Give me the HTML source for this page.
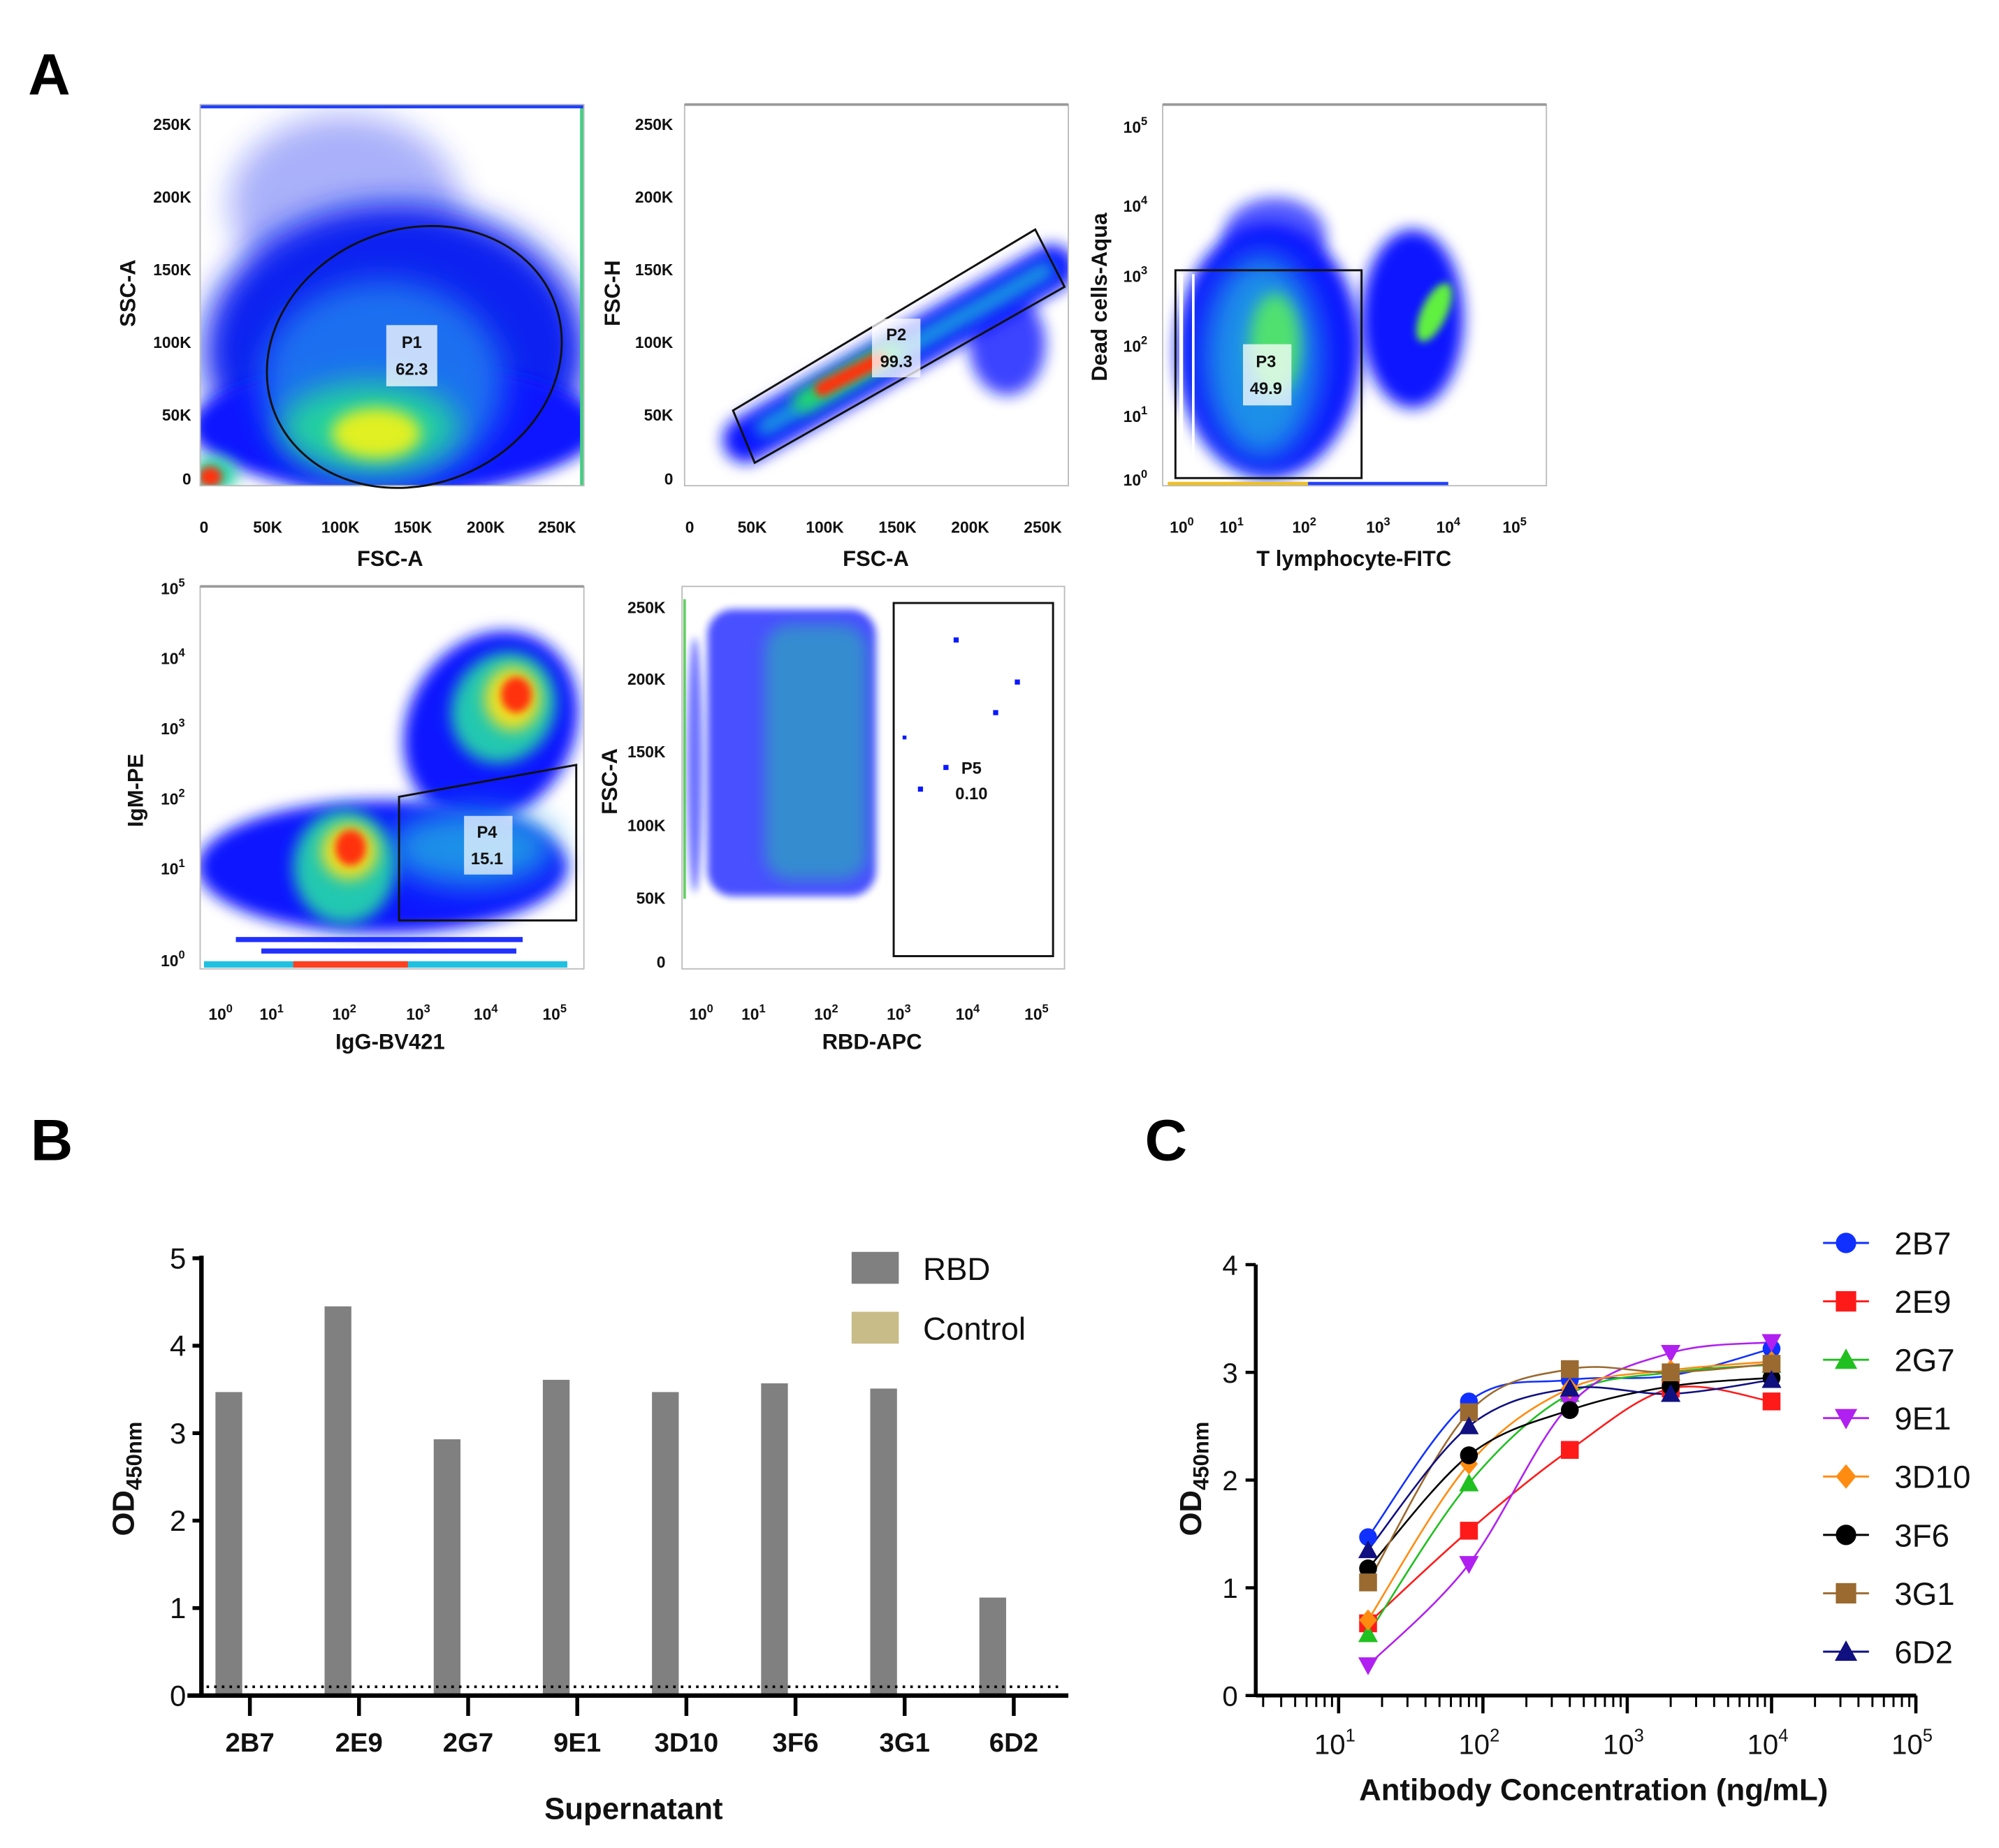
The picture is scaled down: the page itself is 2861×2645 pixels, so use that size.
<!DOCTYPE html>
<html><head><meta charset="utf-8">
<style>
html,body{margin:0;padding:0;background:#fff;}
svg{display:block;}
text{font-family:"Liberation Sans",Arial,sans-serif;}
.tk{font-size:12.5px;font-weight:bold;fill:#111;}
.at{font-size:17px;font-weight:bold;fill:#111;}
.pl{font-size:13px;font-weight:bold;fill:#111;}
</style></head>
<body>
<svg id="fig" width="2861" height="2645" viewBox="0 0 1568 1449.6" xmlns="http://www.w3.org/2000/svg">
<defs>
<filter id="b6" x="-50%" y="-50%" width="200%" height="200%"><feGaussianBlur stdDeviation="6"/></filter>
<filter id="b12" x="-50%" y="-50%" width="200%" height="200%"><feGaussianBlur stdDeviation="12"/></filter>
<filter id="b3" x="-50%" y="-50%" width="200%" height="200%"><feGaussianBlur stdDeviation="3"/></filter>
<clipPath id="c1"><rect x="157" y="82" width="301" height="299"/></clipPath>
<clipPath id="c2"><rect x="537" y="82" width="301" height="299"/></clipPath>
<clipPath id="c3"><rect x="912" y="82" width="301" height="299"/></clipPath>
<clipPath id="c4"><rect x="157" y="460" width="301" height="300"/></clipPath>
<clipPath id="c5"><rect x="535" y="460" width="300" height="300"/></clipPath>
</defs>

<text x="22" y="74" style="font-size:46px;font-weight:bold">A</text>
<text x="24" y="910" style="font-size:46px;font-weight:bold">B</text>
<text x="898" y="910" style="font-size:46px;font-weight:bold">C</text>

<!-- Plot 1 -->
<g>
<g clip-path="url(#c1)">
<ellipse cx="270" cy="160" rx="90" ry="70" fill="#1020f0" opacity="0.35" filter="url(#b12)"/>
<ellipse cx="310" cy="275" rx="150" ry="115" fill="#1020f0" filter="url(#b12)"/>
<ellipse cx="310" cy="335" rx="160" ry="50" fill="#0a18ff" filter="url(#b6)"/>
<ellipse cx="300" cy="300" rx="95" ry="80" fill="#1a70f0" filter="url(#b12)"/>
<ellipse cx="290" cy="335" rx="70" ry="35" fill="#20d0a0" filter="url(#b12)"/>
<ellipse cx="295" cy="340" rx="35" ry="20" fill="#e0f020" filter="url(#b6)"/>
<ellipse cx="168" cy="372" rx="18" ry="14" fill="#20d0a0" filter="url(#b6)"/>
<ellipse cx="165" cy="374" rx="9" ry="8" fill="#ff3010" filter="url(#b3)"/>
<rect x="455" y="82" width="3" height="299" fill="#40d080"/>
<rect x="157" y="82" width="301" height="3" fill="#2040ff"/>
</g>
<rect x="157" y="82" width="301" height="299" fill="none" stroke="#bbb" stroke-width="1"/>
<ellipse cx="325" cy="280" rx="118" ry="100" transform="rotate(-22 325 280)" fill="none" stroke="#111" stroke-width="1.6"/>
<rect x="303" y="255" width="40" height="48" fill="#fff" opacity="0.75"/>
<text class="pl" x="323" y="273" text-anchor="middle">P1</text>
<text class="pl" x="323" y="294" text-anchor="middle">62.3</text>
<g class="tk" text-anchor="end">
<text x="150" y="102">250K</text><text x="150" y="159">200K</text><text x="150" y="216">150K</text><text x="150" y="273">100K</text><text x="150" y="330">50K</text><text x="150" y="380">0</text>
</g>
<g class="tk" text-anchor="middle">
<text x="160" y="418">0</text><text x="210" y="418">50K</text><text x="267" y="418">100K</text><text x="324" y="418">150K</text><text x="381" y="418">200K</text><text x="437" y="418">250K</text>
</g>
<text class="at" x="306" y="444" text-anchor="middle">FSC-A</text>
<text class="at" x="106" y="230" text-anchor="middle" transform="rotate(-90 106 230)">SSC-A</text>
</g>

<!-- Plot 2 -->
<g>
<g clip-path="url(#c2)">
<line x1="585" y1="345" x2="825" y2="210" stroke="#0a18ff" stroke-width="36" stroke-linecap="round" filter="url(#b6)"/>
<ellipse cx="790" cy="270" rx="30" ry="40" fill="#0a18ff" opacity="0.8" filter="url(#b6)"/>
<line x1="600" y1="335" x2="820" y2="212" stroke="#1aa0e0" stroke-width="14" stroke-linecap="round" filter="url(#b6)"/>
<line x1="630" y1="315" x2="700" y2="275" stroke="#20e060" stroke-width="16" stroke-linecap="round" filter="url(#b6)"/>
<line x1="645" y1="305" x2="690" y2="282" stroke="#ff3010" stroke-width="12" stroke-linecap="round" filter="url(#b3)"/>
</g>
<rect x="537" y="82" width="301" height="299" fill="none" stroke="#bbb"/>
<line x1="537" y1="82" x2="838" y2="82" stroke="#999" stroke-width="2"/>
<polygon points="575,322 812,180 835,225 592,363" fill="none" stroke="#111" stroke-width="1.6"/>
<rect x="684" y="250" width="38" height="46" fill="#fff" opacity="0.75"/>
<text class="pl" x="703" y="267" text-anchor="middle">P2</text>
<text class="pl" x="703" y="288" text-anchor="middle">99.3</text>
<g class="tk" text-anchor="end">
<text x="528" y="102">250K</text><text x="528" y="159">200K</text><text x="528" y="216">150K</text><text x="528" y="273">100K</text><text x="528" y="330">50K</text><text x="528" y="380">0</text>
</g>
<g class="tk" text-anchor="middle">
<text x="541" y="418">0</text><text x="590" y="418">50K</text><text x="647" y="418">100K</text><text x="704" y="418">150K</text><text x="761" y="418">200K</text><text x="818" y="418">250K</text>
</g>
<text class="at" x="687" y="444" text-anchor="middle">FSC-A</text>
<text class="at" x="486" y="230" text-anchor="middle" transform="rotate(-90 486 230)">FSC-H</text>
</g>

<!-- Plot 3 -->
<g>
<g clip-path="url(#c3)">
<ellipse cx="995" cy="275" rx="72" ry="100" fill="#0a18ff" filter="url(#b6)"/>
<ellipse cx="1000" cy="185" rx="40" ry="30" fill="#0a18ff" opacity="0.7" filter="url(#b6)"/>
<ellipse cx="1108" cy="250" rx="40" ry="70" fill="#0a18ff" filter="url(#b6)"/>
<ellipse cx="990" cy="280" rx="45" ry="80" fill="#1a90e8" filter="url(#b12)"/>
<ellipse cx="1000" cy="270" rx="20" ry="40" fill="#50e070" filter="url(#b6)"/>
<ellipse cx="1125" cy="245" rx="10" ry="25" transform="rotate(25 1125 245)" fill="#60f040" filter="url(#b3)"/>
<rect x="916" y="378" width="110" height="3" fill="#f0c020"/>
<rect x="1026" y="378" width="110" height="3" fill="#2040ff"/>
<rect x="925" y="215" width="3" height="160" fill="#fff"/>
<rect x="935" y="215" width="2" height="160" fill="#fff"/>
</g>
<rect x="912" y="82" width="301" height="299" fill="none" stroke="#bbb"/>
<line x1="912" y1="82" x2="1213" y2="82" stroke="#999" stroke-width="2"/>
<rect x="922" y="212" width="146" height="163" fill="none" stroke="#111" stroke-width="1.6"/>
<rect x="975" y="270" width="38" height="48" fill="#fff" opacity="0.75"/>
<text class="pl" x="993" y="288" text-anchor="middle">P3</text>
<text class="pl" x="993" y="309" text-anchor="middle">49.9</text>
<g class="tk" text-anchor="end">
<text x="900" y="104">10<tspan dy="-6" font-size="9">5</tspan></text>
<text x="900" y="166">10<tspan dy="-6" font-size="9">4</tspan></text>
<text x="900" y="221">10<tspan dy="-6" font-size="9">3</tspan></text>
<text x="900" y="276">10<tspan dy="-6" font-size="9">2</tspan></text>
<text x="900" y="331">10<tspan dy="-6" font-size="9">1</tspan></text>
<text x="900" y="381">10<tspan dy="-6" font-size="9">0</tspan></text>
</g>
<g class="tk" text-anchor="middle">
<text x="927" y="418">10<tspan dy="-6" font-size="9">0</tspan></text>
<text x="966" y="418">10<tspan dy="-6" font-size="9">1</tspan></text>
<text x="1023" y="418">10<tspan dy="-6" font-size="9">2</tspan></text>
<text x="1081" y="418">10<tspan dy="-6" font-size="9">3</tspan></text>
<text x="1136" y="418">10<tspan dy="-6" font-size="9">4</tspan></text>
<text x="1188" y="418">10<tspan dy="-6" font-size="9">5</tspan></text>
</g>
<text class="at" x="1062" y="444" text-anchor="middle">T lymphocyte-FITC</text>
<text class="at" x="868" y="233" text-anchor="middle" transform="rotate(-90 868 233)">Dead cells-Aqua</text>
</g>

<!-- Plot 4 -->
<g>
<g clip-path="url(#c4)">
<ellipse cx="385" cy="570" rx="65" ry="78" transform="rotate(30 385 570)" fill="#0a18ff" filter="url(#b6)"/>
<ellipse cx="300" cy="680" rx="145" ry="52" fill="#0a18ff" filter="url(#b6)"/>
<ellipse cx="395" cy="555" rx="40" ry="45" transform="rotate(30 395 555)" fill="#20c8b0" filter="url(#b6)"/>
<ellipse cx="402" cy="548" rx="22" ry="25" fill="#f0e020" filter="url(#b6)"/>
<ellipse cx="405" cy="545" rx="12" ry="14" fill="#ff3010" filter="url(#b3)"/>
<ellipse cx="370" cy="665" rx="65" ry="30" fill="#1a90e8" filter="url(#b12)"/>
<ellipse cx="270" cy="680" rx="40" ry="45" fill="#20c8b0" filter="url(#b6)"/>
<ellipse cx="274" cy="668" rx="22" ry="22" fill="#f0e020" filter="url(#b6)"/>
<ellipse cx="275" cy="665" rx="12" ry="14" fill="#ff3010" filter="url(#b3)"/>
<rect x="185" y="735" width="225" height="4" fill="#2030ff"/>
<rect x="205" y="744" width="200" height="4" fill="#2030ff"/>
<rect x="160" y="754" width="285" height="5" fill="#20c0e0"/>
<rect x="230" y="754" width="90" height="5" fill="#ff4020"/>
</g>
<rect x="157" y="460" width="301" height="300" fill="none" stroke="#bbb"/>
<line x1="157" y1="460" x2="458" y2="460" stroke="#999" stroke-width="2"/>
<polygon points="313,625 452,600 452,722 313,722" fill="none" stroke="#111" stroke-width="1.6"/>
<rect x="364" y="640" width="38" height="46" fill="#fff" opacity="0.7"/>
<text class="pl" x="382" y="657" text-anchor="middle">P4</text>
<text class="pl" x="382" y="678" text-anchor="middle">15.1</text>
<g class="tk" text-anchor="end">
<text x="145" y="466">10<tspan dy="-6" font-size="9">5</tspan></text>
<text x="145" y="521">10<tspan dy="-6" font-size="9">4</tspan></text>
<text x="145" y="576">10<tspan dy="-6" font-size="9">3</tspan></text>
<text x="145" y="631">10<tspan dy="-6" font-size="9">2</tspan></text>
<text x="145" y="686">10<tspan dy="-6" font-size="9">1</tspan></text>
<text x="145" y="758">10<tspan dy="-6" font-size="9">0</tspan></text>
</g>
<g class="tk" text-anchor="middle">
<text x="173" y="800">10<tspan dy="-6" font-size="9">0</tspan></text>
<text x="213" y="800">10<tspan dy="-6" font-size="9">1</tspan></text>
<text x="270" y="800">10<tspan dy="-6" font-size="9">2</tspan></text>
<text x="328" y="800">10<tspan dy="-6" font-size="9">3</tspan></text>
<text x="381" y="800">10<tspan dy="-6" font-size="9">4</tspan></text>
<text x="435" y="800">10<tspan dy="-6" font-size="9">5</tspan></text>
</g>
<text class="at" x="306" y="823" text-anchor="middle">IgG-BV421</text>
<text class="at" x="112" y="620" text-anchor="middle" transform="rotate(-90 112 620)">IgM-PE</text>
</g>

<!-- Plot 5 -->
<g>
<g clip-path="url(#c5)">
<rect x="555" y="478" width="132" height="225" rx="20" fill="#0a18ff" opacity="0.75" filter="url(#b3)"/>
<ellipse cx="545" cy="600" rx="6" ry="100" fill="#0a18ff" opacity="0.6" filter="url(#b3)"/>
<rect x="600" y="490" width="80" height="200" rx="20" fill="#20c8a0" opacity="0.5" filter="url(#b6)"/>
<rect x="536" y="470" width="2" height="235" fill="#60d060"/>
<rect x="748" y="500" width="4" height="4" fill="#0a18ff"/>
<rect x="796" y="533" width="4" height="4" fill="#0a18ff"/>
<rect x="779" y="557" width="4" height="4" fill="#0a18ff"/>
<rect x="740" y="600" width="4" height="4" fill="#0a18ff"/>
<rect x="720" y="617" width="4" height="4" fill="#0a18ff"/>
<rect x="708" y="577" width="3" height="3" fill="#0a18ff"/>
</g>
<rect x="535" y="460" width="300" height="300" fill="none" stroke="#bbb"/>
<rect x="701" y="473" width="125" height="277" fill="none" stroke="#111" stroke-width="1.6"/>
<text class="pl" x="762" y="607" text-anchor="middle">P5</text>
<text class="pl" x="762" y="627" text-anchor="middle">0.10</text>
<g class="tk" text-anchor="end">
<text x="522" y="481">250K</text><text x="522" y="537">200K</text><text x="522" y="594">150K</text><text x="522" y="652">100K</text><text x="522" y="709">50K</text><text x="522" y="759">0</text>
</g>
<g class="tk" text-anchor="middle">
<text x="550" y="800">10<tspan dy="-6" font-size="9">0</tspan></text>
<text x="591" y="800">10<tspan dy="-6" font-size="9">1</tspan></text>
<text x="648" y="800">10<tspan dy="-6" font-size="9">2</tspan></text>
<text x="705" y="800">10<tspan dy="-6" font-size="9">3</tspan></text>
<text x="759" y="800">10<tspan dy="-6" font-size="9">4</tspan></text>
<text x="813" y="800">10<tspan dy="-6" font-size="9">5</tspan></text>
</g>
<text class="at" x="684" y="823" text-anchor="middle">RBD-APC</text>
<text class="at" x="484" y="613" text-anchor="middle" transform="rotate(-90 484 613)">FSC-A</text>
</g>

<g id="chartB"></g>
<g id="chartC"></g>
</svg>

<script>
const NS="http://www.w3.org/2000/svg";
// ---- Chart B data ----
const bCategories=["2B7","2E9","2G7","9E1","3D10","3F6","3G1","6D2"];
const bRBD=[3.47,4.45,2.93,3.61,3.47,3.57,3.51,1.12];
const bCutoff=0.1;
const bYTicks=[0,1,2,3,4,5];
// ---- Chart C data ----
const cConc=[16,80,400,2000,10000];
const cSeriesNames=["2B7","2E9","2G7","9E1","3D10","3F6","3G1","6D2"];
const c2B7=[1.47,2.73,2.93,2.97,3.22];
const c2E9=[0.67,1.53,2.28,2.85,2.73];
const c2G7=[0.57,1.97,2.80,3.00,3.07];
const c9E1=[0.28,1.22,2.70,3.18,3.28];
const c3D10=[0.70,2.15,2.85,3.02,3.10];
const c3F6=[1.18,2.23,2.65,2.87,2.95];
const c3G1=[1.05,2.63,3.03,3.00,3.08];
const c6D2=[1.35,2.50,2.85,2.80,2.93];
const cYTicks=[0,1,2,3,4];
const cXTickExp=[1,2,3,4,5];

function mk(tag,attrs,parent,txt){const e=document.createElementNS(NS,tag);for(const k in attrs)e.setAttribute(k,attrs[k]);if(txt!==undefined)e.textContent=txt;parent.appendChild(e);return e;}

// ---- Chart B ----
(function(){
const g=document.getElementById('chartB');
const x0=158,x1=838,y0=1330,yTop=987;
const yS=v=>y0-(v/5)*(y0-yTop);
const step=85.6, first=196;
const xC=i=>first+i*step;
bYTicks.forEach(t=>{
 const l=mk('line',{x1:x0-7,y1:yS(t),x2:x0,y2:yS(t),stroke:'#000','stroke-width':3},g);
 
 
 const tx=mk('text',{x:x0-12,y:yS(t)+8,'text-anchor':'end','font-size':23,fill:'#111'},g,String(t));
 
 
});
bRBD.forEach((v,i)=>{
 const r=mk('rect',{x:xC(i)-27,y:yS(v),width:21,height:y0-yS(v),fill:'#808080'},g);
 
 
});
const dl=mk('line',{x1:x0+4,y1:yS(bCutoff),x2:x1-4,y2:yS(bCutoff),stroke:'#000','stroke-width':2,'stroke-dasharray':'2 4'},g);


const ya=mk('line',{x1:x0,y1:yTop-2,x2:x0,y2:y0+1.5,stroke:'#000','stroke-width':3.5},g);


const xa=mk('line',{x1:147,y1:y0,x2:x1,y2:y0,stroke:'#000','stroke-width':3.5},g);


bCategories.forEach((c,i)=>{
 const l=mk('line',{x1:xC(i),y1:y0,x2:xC(i),y2:y0+16,stroke:'#000','stroke-width':3},g);
 
 
 const t=mk('text',{x:xC(i),y:y0+44,'text-anchor':'middle','font-size':21,'font-weight':'bold',fill:'#111'},g,c);
 
 
});
const xt=mk('text',{x:497,y:1427,'text-anchor':'middle','font-size':24,'font-weight':'bold',fill:'#111'},g,'Supernatant');


const yt=mk('text',{x:105,y:1160,'text-anchor':'middle','font-size':24,'font-weight':'bold',fill:'#111',transform:'rotate(-90 105 1160)'},g);


yt.appendChild(document.createTextNode('OD'));
mk('tspan',{dy:6,'font-size':17},yt,'450nm');
const lr=mk('rect',{x:668,y:982,width:37,height:25,fill:'#808080'},g);


const lt=mk('text',{x:724,y:1004,'font-size':25,fill:'#111'},g,'RBD');


const lr2=mk('rect',{x:668,y:1029,width:37,height:25,fill:'#c8bc88'},g);


const lt2=mk('text',{x:724,y:1051,'font-size':25,fill:'#111'},g,'Control');


})();

// ---- Chart C ----
(function(){
const g=document.getElementById('chartC');
const x0=985,xEnd=1503,y0=1330,yTop=992;
const yS=v=>y0-(v/4)*(y0-yTop);
const xS=c=>1050+(Math.log10(c)-1)*113.2;
const series=[c2B7,c2E9,c2G7,c9E1,c3D10,c3F6,c3G1,c6D2];
const colors=['#1030ff','#ff1a1a','#20c020','#b020f0','#ff8c10','#000000','#9a6a30','#101080'];
const shapes=['circle','square','tri','tridown','diamond','circle','square','tri'];
function marker(shape,cx,cy,s,col,parent){
 let e;
 if(shape==='circle')e=mk('circle',{cx:cx,cy:cy,r:s,fill:col},parent);
 else if(shape==='square')e=mk('rect',{x:cx-s,y:cy-s,width:2*s,height:2*s,fill:col},parent);
 else if(shape==='tri')e=mk('polygon',{points:`${cx},${cy-s*1.1} ${cx+s*1.1},${cy+s*0.9} ${cx-s*1.1},${cy+s*0.9}`,fill:col},parent);
 else if(shape==='tridown')e=mk('polygon',{points:`${cx},${cy+s*1.1} ${cx+s*1.1},${cy-s*0.9} ${cx-s*1.1},${cy-s*0.9}`,fill:col},parent);
 else e=mk('polygon',{points:`${cx},${cy-s*1.2} ${cx+s},${cy} ${cx},${cy+s*1.2} ${cx-s},${cy}`,fill:col},parent);
 return e;
}
function smooth(pts){
 let d=`M${pts[0][0]},${pts[0][1]}`;
 for(let i=0;i<pts.length-1;i++){
  const p0=pts[i-1]||pts[i],p1=pts[i],p2=pts[i+1],p3=pts[i+2]||p2;
  const c1=[p1[0]+(p2[0]-p0[0])/6,p1[1]+(p2[1]-p0[1])/6];
  const c2=[p2[0]-(p3[0]-p1[0])/6,p2[1]-(p3[1]-p1[1])/6];
  d+=` C${c1[0]},${c1[1]} ${c2[0]},${c2[1]} ${p2[0]},${p2[1]}`;
 }
 return d;
}
series.forEach((s,k)=>{
 const pts=s.map((v,i)=>[xS(cConc[i]),yS(v)]);
 const p=mk('path',{d:smooth(pts),fill:'none',stroke:colors[k],'stroke-width':1.4},g);
 
 
});
series.forEach((s,k)=>{
 s.forEach((v,i)=>{
  const m=marker(shapes[k],xS(cConc[i]),yS(v),7,colors[k],g);
  
  
 });
});
const ya=mk('line',{x1:x0,y1:yTop,x2:x0,y2:y0+1,stroke:'#000','stroke-width':3},g);


const xa=mk('line',{x1:x0,y1:y0,x2:xEnd,y2:y0,stroke:'#000','stroke-width':3},g);


cYTicks.forEach(t=>{
 const l=mk('line',{x1:x0-8,y1:yS(t),x2:x0,y2:yS(t),stroke:'#000','stroke-width':2.5},g);
 
 
 const tx=mk('text',{x:x0-14,y:yS(t)+8,'text-anchor':'end','font-size':22,fill:'#111'},g,String(t));
 
 
});
for(let e=0;e<=4;e++){
 for(let m=1;m<=9;m++){
  const v=Math.pow(10,e)*m;
  const x=xS(v);
  if(x<x0+2||x>xEnd+1)continue;
  const major=(m===1);
  const l=mk('line',{x1:x,y1:y0,x2:x,y2:y0+(major?14:9),stroke:'#000','stroke-width':major?2.5:1.6},g);
  
  
 }
}
const lt5=mk('line',{x1:xS(100000),y1:y0,x2:xS(100000),y2:y0+14,stroke:'#000','stroke-width':2.5},g);


cXTickExp.forEach(e=>{
 const t=mk('text',{x:xS(Math.pow(10,e))-3,y:y0+46,'text-anchor':'middle','font-size':22,fill:'#111'},g,'10');
 
 
 mk('tspan',{dy:-10,'font-size':14},t,String(e));
});
const xt=mk('text',{x:1250,y:1412,'text-anchor':'middle','font-size':24,'font-weight':'bold',fill:'#111'},g,'Antibody Concentration (ng/mL)');


const yt=mk('text',{x:942,y:1160,'text-anchor':'middle','font-size':24,'font-weight':'bold',fill:'#111',transform:'rotate(-90 942 1160)'},g);


yt.appendChild(document.createTextNode('OD'));
mk('tspan',{dy:6,'font-size':17},yt,'450nm');
cSeriesNames.forEach((n,k)=>{
 const y=975+k*45.8;
 const l=mk('line',{x1:1430,y1:y,x2:1466,y2:y,stroke:colors[k],'stroke-width':1.6},g);
 
 
 const m=marker(shapes[k],1448,y,8,colors[k],g);
 
 
 const t=mk('text',{x:1486,y:y+9,'font-size':25,fill:'#111'},g,n);
 
 
});
})();
</script>
</body></html>
